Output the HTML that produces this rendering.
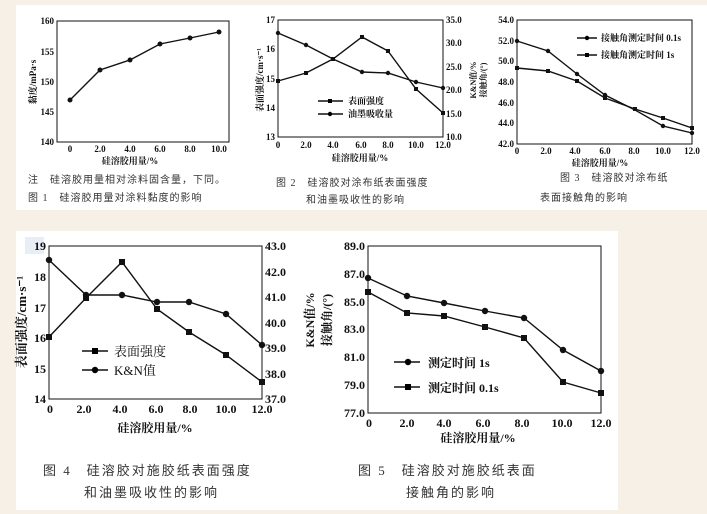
<!DOCTYPE html>
<html><head><meta charset="utf-8"><style>
html,body{margin:0;padding:0;background:#f6f0e6;}
svg{display:block;}
text{font-family:"Liberation Serif","Noto Serif CJK SC","Noto Sans CJK SC",serif;fill:#111;}
.t{font-size:9px;font-weight:bold;}
.T{font-size:12px;font-weight:bold;}
.cap{font-family:"Liberation Serif","Noto Sans CJK SC",serif;fill:#333;font-size:10px;letter-spacing:1px;}
.capb{font-family:"Liberation Serif","Noto Sans CJK SC",serif;fill:#333;font-size:13px;letter-spacing:2px;}
.ax{fill:none;stroke:#111;stroke-width:1;}
.ln{fill:none;stroke:#111;stroke-width:1.4;}
</style></head><body>
<svg width="707" height="514" viewBox="0 0 707 514" xmlns="http://www.w3.org/2000/svg">
<rect x="16" y="5" width="691" height="205" fill="#fff"/>
<rect x="16" y="231" width="602" height="279" fill="#fff"/>
<rect x="25" y="237" width="19" height="17" fill="#e8eef5"/>

<!-- Fig1 -->
<rect class="ax" x="57" y="21" width="172" height="121"/>
<g class="t" text-anchor="end">
<text x="54" y="24">160</text><text x="54" y="55">155</text><text x="54" y="85">150</text><text x="54" y="115">145</text><text x="54" y="145">140</text></g>
<g class="t" text-anchor="middle">
<text x="70" y="152">0</text><text x="100" y="152">2.0</text><text x="130" y="152">4.0</text><text x="160" y="152">6.0</text><text x="190" y="152">8.0</text><text x="219" y="152">10.0</text></g>
<text class="t" x="130" y="164" text-anchor="middle">硅溶胶用量/%</text>
<text class="t" transform="translate(36,82) rotate(-90)" text-anchor="middle">黏度/mPa·s</text>
<polyline class="ln" points="70,100 100,70 130,60 160,44 190,38 219,32"/>
<g fill="#111"><circle cx="70" cy="100" r="2.5"/><circle cx="100" cy="70" r="2.5"/><circle cx="130" cy="60" r="2.5"/><circle cx="160" cy="44" r="2.5"/><circle cx="190" cy="38" r="2.5"/><circle cx="219" cy="32" r="2.5"/></g>
<text class="cap" x="28" y="183">注　硅溶胶用量相对涂料固含量，下同。</text>
<text class="cap" x="28" y="201">图 1　硅溶胶用量对涂料黏度的影响</text>

<!-- Fig2 -->
<rect class="ax" x="278" y="20" width="165" height="117"/>
<g class="t" text-anchor="end"><text x="275" y="23">17</text><text x="275" y="52">16</text><text x="275" y="82">15</text><text x="275" y="111">14</text><text x="275" y="140">13</text></g>
<g class="t"><text x="446" y="23">35.0</text><text x="446" y="46">30.0</text><text x="446" y="70">25.0</text><text x="446" y="93">20.0</text><text x="446" y="117">15.0</text><text x="446" y="140">10.0</text></g>
<g class="t" text-anchor="middle"><text x="278" y="148">0</text><text x="306" y="148">2.0</text><text x="333" y="148">4.0</text><text x="361" y="148">6.0</text><text x="388" y="148">8.0</text><text x="416" y="148">10.0</text><text x="443" y="148">12.0</text></g>
<text class="t" x="360" y="161" text-anchor="middle">硅溶胶用量/%</text>
<text class="t" transform="translate(263,80) rotate(-90)" text-anchor="middle">表面强度/cm·s⁻¹</text>
<text class="t" style="font-size:8px" transform="translate(476,80) rotate(-90)" text-anchor="middle">K&amp;N值/%</text>
<polyline class="ln" points="278,81 306,73 333,59 362,37 388,51 416,89 443,113"/>
<polyline class="ln" points="278,33 306,45 333,59 362,72 388,73 416,82 443,88"/>
<g fill="#111"><rect x="276" y="79" width="4" height="4"/><rect x="304" y="71" width="4" height="4"/><rect x="331" y="57" width="4" height="4"/><rect x="360" y="35" width="4" height="4"/><rect x="386" y="49" width="4" height="4"/><rect x="414" y="87" width="4" height="4"/><rect x="441" y="111" width="4" height="4"/>
<circle cx="278" cy="33" r="2.2"/><circle cx="306" cy="45" r="2.2"/><circle cx="362" cy="72" r="2.2"/><circle cx="388" cy="73" r="2.2"/><circle cx="416" cy="82" r="2.2"/><circle cx="443" cy="88" r="2.2"/></g>
<line class="ln" x1="318" y1="101" x2="343" y2="101"/><rect x="328" y="99" width="4" height="4"/>
<line class="ln" x1="318" y1="114" x2="343" y2="114"/><circle cx="330" cy="114" r="2.2"/>
<text class="t" x="348" y="104">表面强度</text><text class="t" x="348" y="117">油墨吸收量</text>
<text class="cap" x="276" y="186">图 2　硅溶胶对涂布纸表面强度</text>
<text class="cap" x="306" y="203">和油墨吸收性的影响</text>

<!-- Fig3 -->
<rect class="ax" x="517" y="20" width="175" height="124"/>
<g class="t" text-anchor="end"><text x="514" y="23">54.0</text><text x="514" y="44">52.0</text><text x="514" y="64">50.0</text><text x="514" y="85">48.0</text><text x="514" y="106">46.0</text><text x="514" y="126">44.0</text><text x="514" y="147">42.0</text></g>
<g class="t" text-anchor="middle"><text x="517" y="154">0</text><text x="546" y="154">2.0</text><text x="575" y="154">4.0</text><text x="605" y="154">6.0</text><text x="634" y="154">8.0</text><text x="663" y="154">10.0</text><text x="692" y="154">12.0</text></g>
<text class="t" x="600" y="166" text-anchor="middle">硅溶胶用量/%</text>
<text class="t" style="font-size:8px" transform="translate(486,80) rotate(-90)" text-anchor="middle">接触角/(°)</text>
<polyline class="ln" points="517,41 548,51 577,74 605,95 635,110 663,126 692,133"/>
<polyline class="ln" points="517,68 548,71 577,81 605,98 635,109 663,118 692,128"/>
<g fill="#111"><circle cx="517" cy="41" r="2.2"/><circle cx="548" cy="51" r="2.2"/><circle cx="577" cy="74" r="2.2"/><circle cx="605" cy="95" r="2.2"/><circle cx="663" cy="126" r="2.2"/><circle cx="692" cy="133" r="2.2"/>
<rect x="515" y="66" width="4" height="4"/><rect x="546" y="69" width="4" height="4"/><rect x="575" y="79" width="4" height="4"/><rect x="603" y="96" width="4" height="4"/><rect x="633" y="107" width="4" height="4"/><rect x="661" y="116" width="4" height="4"/><rect x="690" y="126" width="4" height="4"/></g>
<line class="ln" x1="577" y1="38" x2="597" y2="38"/><circle cx="587" cy="38" r="2.2"/>
<line class="ln" x1="577" y1="55" x2="597" y2="55"/><rect x="585" y="53" width="4" height="4"/>
<text class="t" x="601" y="41">接触角测定时间 0.1s</text><text class="t" x="601" y="58">接触角测定时间 1s</text>
<text class="cap" x="560" y="181">图 3　硅溶胶对涂布纸</text>
<text class="cap" x="540" y="201">表面接触角的影响</text>

<!-- Fig4 -->
<rect class="ax" x="49" y="246" width="213" height="153"/>
<g class="T" text-anchor="end"><text x="46" y="250">19</text><text x="46" y="281">18</text><text x="46" y="312">17</text><text x="46" y="342">16</text><text x="46" y="373">15</text><text x="46" y="403">14</text></g>
<g class="T"><text x="265" y="250">43.0</text><text x="265" y="276">42.0</text><text x="265" y="301">41.0</text><text x="265" y="327">40.0</text><text x="265" y="352">39.0</text><text x="265" y="378">38.0</text><text x="265" y="403">37.0</text></g>
<g class="T" text-anchor="middle"><text x="50" y="413">0</text><text x="84" y="413">2.0</text><text x="120" y="413">4.0</text><text x="156" y="413">6.0</text><text x="190" y="413">8.0</text><text x="226" y="413">10.0</text><text x="262" y="413">12.0</text></g>
<text class="T" x="155" y="432" text-anchor="middle">硅溶胶用量/%</text>
<text class="T" style="font-size:13px" transform="translate(26,322) rotate(-90)" text-anchor="middle">表面强度/cm·s⁻¹</text>
<polyline class="ln" points="49,337 86,298 122,262 157,309 189,332 226,355 262,382"/>
<polyline class="ln" points="49,260 86,295 122,295 157,302 189,302 226,314 262,345"/>
<g fill="#111"><rect x="46" y="334" width="6" height="6"/><rect x="83" y="295" width="6" height="6"/><rect x="119" y="259" width="6" height="6"/><rect x="154" y="306" width="6" height="6"/><rect x="186" y="329" width="6" height="6"/><rect x="223" y="352" width="6" height="6"/><rect x="259" y="379" width="6" height="6"/>
<circle cx="49" cy="260" r="3.2"/><circle cx="86" cy="295" r="3.2"/><circle cx="122" cy="295" r="3.2"/><circle cx="157" cy="302" r="3.2"/><circle cx="189" cy="302" r="3.2"/><circle cx="226" cy="314" r="3.2"/><circle cx="262" cy="345" r="3.2"/></g>
<line class="ln" x1="82" y1="351" x2="108" y2="351"/><rect x="92" y="348" width="6" height="6"/>
<line class="ln" x1="82" y1="370" x2="108" y2="370"/><circle cx="95" cy="370" r="3.2"/>
<text class="T" style="font-weight:normal;font-size:13px" x="114" y="356">表面强度</text><text class="T" style="font-weight:normal;font-size:13px" x="114" y="375">K&amp;N值</text>
<text class="capb" x="43" y="475">图 4　硅溶胶对施胶纸表面强度</text>
<text class="capb" x="84" y="497">和油墨吸收性的影响</text>

<!-- Fig5 -->
<rect class="ax" x="368" y="246" width="233" height="167"/>
<g class="T" text-anchor="end"><text x="365" y="250">89.0</text><text x="365" y="278">87.0</text><text x="365" y="306">85.0</text><text x="365" y="333">83.0</text><text x="365" y="361">81.0</text><text x="365" y="389">79.0</text><text x="365" y="417">77.0</text></g>
<g class="T" text-anchor="middle"><text x="369" y="427">0</text><text x="407" y="427">2.0</text><text x="444" y="427">4.0</text><text x="483" y="427">6.0</text><text x="522" y="427">8.0</text><text x="562" y="427">10.0</text><text x="601" y="427">12.0</text></g>
<text class="T" x="478" y="442" text-anchor="middle">硅溶胶用量/%</text>
<text class="T" transform="translate(314,320) rotate(-90)" text-anchor="middle">K&amp;N值/%</text>
<text class="T" transform="translate(331,320) rotate(-90)" text-anchor="middle">接触角/(°)</text>
<polyline class="ln" points="368,278 407,296 444,303 485,311 524,318 563,350 601,371"/>
<polyline class="ln" points="368,292 407,313 444,316 485,327 524,338 563,382 601,393"/>
<g fill="#111"><circle cx="368" cy="278" r="3.2"/><circle cx="407" cy="296" r="3.2"/><circle cx="444" cy="303" r="3.2"/><circle cx="485" cy="311" r="3.2"/><circle cx="524" cy="318" r="3.2"/><circle cx="563" cy="350" r="3.2"/><circle cx="601" cy="371" r="3.2"/>
<rect x="365" y="289" width="6" height="6"/><rect x="404" y="310" width="6" height="6"/><rect x="441" y="313" width="6" height="6"/><rect x="482" y="324" width="6" height="6"/><rect x="521" y="335" width="6" height="6"/><rect x="560" y="379" width="6" height="6"/><rect x="598" y="390" width="6" height="6"/></g>
<line class="ln" x1="394" y1="362" x2="420" y2="362"/><circle cx="408" cy="362" r="3.2"/>
<line class="ln" x1="394" y1="387" x2="420" y2="387"/><rect x="405" y="384" width="6" height="6"/>
<text class="T" x="428" y="367">测定时间 1s</text><text class="T" x="428" y="392">测定时间 0.1s</text>
<text class="capb" x="358" y="475">图 5　硅溶胶对施胶纸表面</text>
<text class="capb" x="406" y="497">接触角的影响</text>
</svg>
</body></html>
